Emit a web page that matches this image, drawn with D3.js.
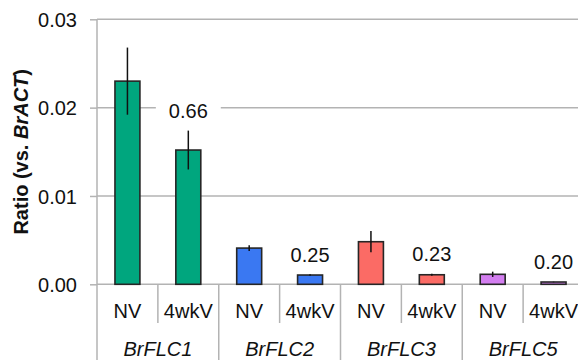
<!DOCTYPE html>
<html>
<head>
<meta charset="utf-8">
<script src="https://cdn.jsdelivr.net/npm/d3@7"></script>
<style>
  html, body { margin: 0; padding: 0; background: #fff; }
  svg { display: block; font-family: "Liberation Sans", Arial, sans-serif; }
</style>
</head>
<body>
<svg id="chart" width="578" height="360"></svg>
<script>
// ---- data ----
const genes = ["BrFLC1", "BrFLC2", "BrFLC3", "BrFLC5"];
const treatments = ["NV", "4wkV"];
const values = [0.0230, 0.0152, 0.0041, 0.00105, 0.00482, 0.00108, 0.00113, 0.00026];
const errors = [0.0038, 0.0022, 0.00033, 0.00008, 0.0012, 0.00012, 0.0003, 0.00003];
const ratioLabels = ["", "0.66", "", "0.25", "", "0.23", "", "0.20"];
const geneColors = ["#00A67E", "#3A78F2", "#FB6B65", "#D37EF0"];
const yTicks = [0, 0.01, 0.02, 0.03];
const yTickLabels = ["0.00", "0.01", "0.02", "0.03"];

// ---- layout ----
const svg = d3.select("#chart");
const mLeft = 97, mRight = 584, mTop = 19.3, mBottom = 284.3;
const fontSize = 20;

const cats = [];
genes.forEach((g, gi) => treatments.forEach((t, ti) => cats.push({ gene: g, gi, treat: t, idx: gi * 2 + ti })));

const x = d3.scaleBand().domain(cats.map(d => d.idx)).range([mLeft, mRight]).paddingInner(0).paddingOuter(0);
const y = d3.scaleLinear().domain([0, 0.03]).range([mBottom, mTop]);
const barW = x.bandwidth() * 0.41;

const gridColor = "#b3b3b3";

// gridlines
svg.append("g").selectAll("line").data(yTicks).join("line")
  .attr("x1", mLeft).attr("x2", 578)
  .attr("y1", d => y(d)).attr("y2", d => y(d))
  .attr("stroke", gridColor).attr("stroke-width", 1.5);

// y axis
const yAxis = d3.axisLeft(y).tickValues(yTicks).tickFormat((d, i) => yTickLabels[i]).tickSize(7).tickPadding(13);
const gy = svg.append("g").attr("transform", `translate(${mLeft},0)`).call(yAxis);
gy.select(".domain").attr("stroke", gridColor).attr("stroke-width", 1.5).attr("d", `M0,${mTop}V${mBottom}`);
gy.selectAll(".tick line").attr("stroke", gridColor).attr("stroke-width", 1.5);
gy.selectAll(".tick text").attr("font-size", fontSize).attr("fill", "#111").attr("font-family", "Liberation Sans, Arial, sans-serif").attr("dy", "0.36em");

// x axis separators
const sep = svg.append("g");
cats.forEach(c => {
  const xb = x(c.idx);
  const isGroup = c.idx % 2 === 0;
  sep.append("line")
    .attr("x1", xb).attr("x2", xb)
    .attr("y1", mBottom).attr("y2", isGroup ? 360 : 323)
    .attr("stroke", gridColor).attr("stroke-width", 1.5);
});

// bars
svg.append("g").selectAll("rect").data(cats).join("rect")
  .attr("x", d => x(d.idx) + (x.bandwidth() - barW) / 2)
  .attr("width", barW)
  .attr("y", d => y(values[d.idx]))
  .attr("height", d => y(0) - y(values[d.idx]))
  .attr("fill", d => geneColors[d.gi])
  .attr("stroke", "#262626").attr("stroke-width", 1.6);

// error bars
svg.append("g").selectAll("line").data(cats).join("line")
  .attr("x1", d => x(d.idx) + x.bandwidth() / 2)
  .attr("x2", d => x(d.idx) + x.bandwidth() / 2)
  .attr("y1", d => y(values[d.idx] + errors[d.idx]))
  .attr("y2", d => y(values[d.idx] - errors[d.idx]))
  .attr("stroke", "#111").attr("stroke-width", 1.5);

// ratio labels
const lab = svg.append("g").selectAll("g").data(cats.filter(d => ratioLabels[d.idx])).join("g");
lab.each(function(d) {
  const g = d3.select(this);
  const cx = x(d.idx) + x.bandwidth() / 2;
  const by = y(values[d.idx] + errors[d.idx]) - 12.5;
  const t = g.append("text").attr("x", cx).attr("y", by)
    .attr("text-anchor", "middle").attr("font-size", fontSize).attr("fill", "#111")
    .text(ratioLabels[d.idx]);
  const bb = t.node().getBBox();
  g.insert("rect", "text")
    .attr("x", bb.x - 13).attr("y", bb.y + 2).attr("width", bb.width + 26).attr("height", bb.height - 4)
    .attr("fill", "#fff");
});

// treatment labels
svg.append("g").selectAll("text").data(cats).join("text")
  .attr("x", d => x(d.idx) + x.bandwidth() / 2)
  .attr("y", 317.5)
  .attr("text-anchor", "middle").attr("font-size", fontSize).attr("fill", "#111")
  .text(d => d.treat);

// gene labels
svg.append("g").selectAll("text").data(genes).join("text")
  .attr("x", (d, i) => x(i * 2 + 1))
  .attr("y", 355.5)
  .attr("text-anchor", "middle").attr("font-size", fontSize).attr("font-style", "italic").attr("fill", "#111")
  .text(d => d);

// y axis title
const yt = svg.append("text")
  .attr("transform", `translate(28,${(mTop + mBottom) / 2}) rotate(-90)`)
  .attr("text-anchor", "middle").attr("font-size", fontSize).attr("font-weight", "bold").attr("fill", "#111");
yt.append("tspan").text("Ratio (vs. ");
yt.append("tspan").attr("font-style", "italic").text("BrACT");
yt.append("tspan").text(")");
</script>
</body>
</html>
